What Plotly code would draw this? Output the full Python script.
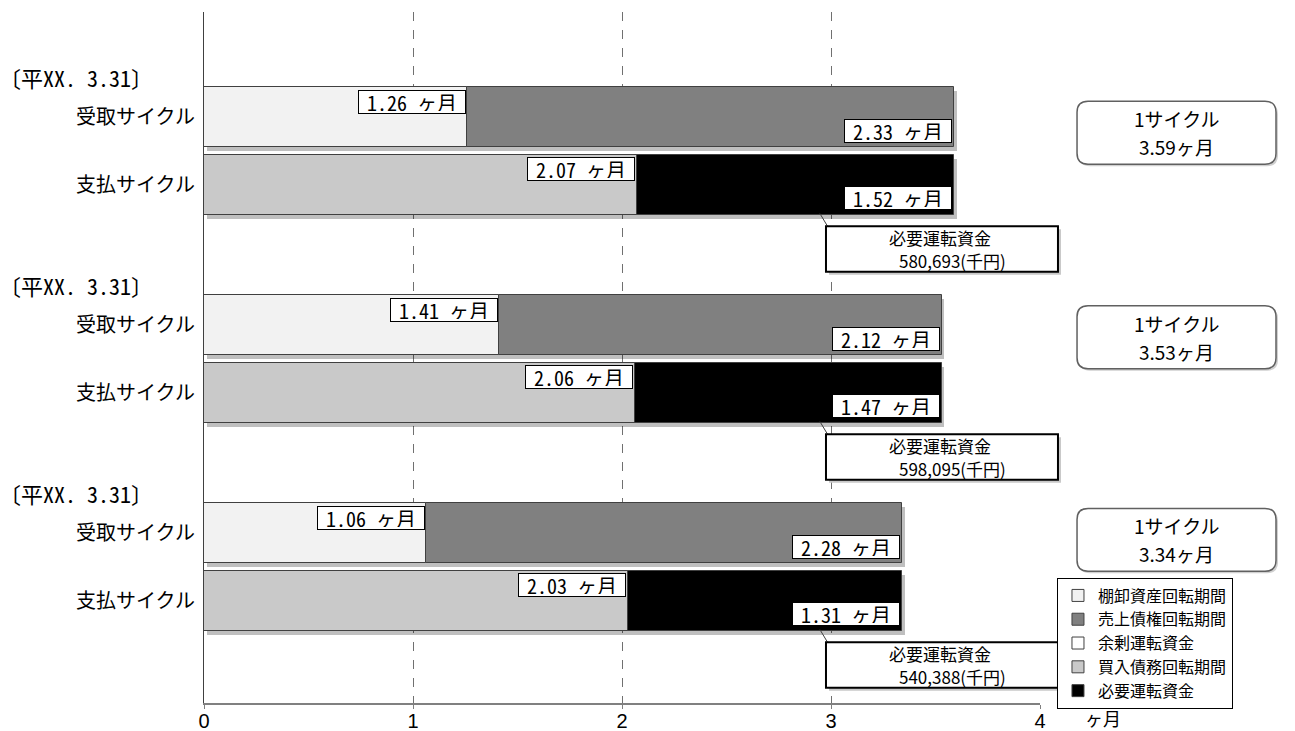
import plotly.graph_objects as go

# ---------------- data ----------------
period_labels = ["〔平XX. 3.31〕", "〔平XX. 3.31〕", "〔平XX. 3.31〕"]
row_labels = ["受取サイクル", "支払サイクル"]
inventory_months = [1.26, 1.41, 1.06]
receivable_months = [2.33, 2.12, 2.28]
payable_months = [2.07, 2.06, 2.03]
required_months = [1.52, 1.47, 1.31]
cycle_months = [3.59, 3.53, 3.34]
required_funds = ["580,693", "598,095", "540,388"]
series_names = ["棚卸資産回転期間", "売上債権回転期間", "余剰運転資金", "買入債務回転期間", "必要運転資金"]
x_ticks = [0, 1, 2, 3, 4]

# ---------------- layout constants ----------------
JP = "Noto Sans CJK JP"
MONO = "Noto Sans Mono CJK JP, DejaVu Sans Mono, Noto Sans CJK JP"
GROUP_STEP = 3.06
BAR_W = 0.88
Y_TOP, Y_BOTTOM = -1.545, 8.62
CYCLE_BOX_OFFSET = [0.23, 0.18, 0.10]
colors = ["#f2f2f2", "#808080", "#ffffff", "#c9c9c9", "#000000"]
PX_X, PX_Y = 1 / 836, 1 / 691  # one pixel in paper units

n = len(period_labels)
recv_y = [g * GROUP_STEP for g in range(n)]
pay_y = [g * GROUP_STEP + 1 for g in range(n)]
recv_tot = [a + b for a, b in zip(inventory_months, receivable_months)]
pay_tot = [a + b for a, b in zip(payable_months, required_months)]


def y_paper(v):
    return (Y_BOTTOM - v) / (Y_BOTTOM - Y_TOP)


def rounded(x0, y0, x1, y1, rx, ry):
    return (f"M{x0 + rx},{y0} L{x1 - rx},{y0} Q{x1},{y0} {x1},{y0 + ry} L{x1},{y1 - ry} "
            f"Q{x1},{y1} {x1 - rx},{y1} L{x0 + rx},{y1} Q{x0},{y1} {x0},{y1 - ry} "
            f"L{x0},{y0 + ry} Q{x0},{y0} {x0 + rx},{y0} Z")


fig = go.Figure()

# shadows
fig.add_trace(go.Bar(
    x=recv_tot + pay_tot, y=[v + 0.06 for v in recv_y + pay_y], base=0.012,
    orientation="h", width=BAR_W, marker=dict(color="rgba(0,0,0,0.25)", line=dict(width=0)),
    showlegend=False, hoverinfo="skip"))

common = dict(orientation="h", width=BAR_W, hoverinfo="skip")
fig.add_trace(go.Bar(name=series_names[0], x=inventory_months, y=recv_y, base=[0] * n,
                     marker=dict(color=colors[0], line=dict(color="#404040", width=1)), **common))
fig.add_trace(go.Bar(name=series_names[1], x=receivable_months, y=recv_y, base=inventory_months,
                     marker=dict(color=colors[1], line=dict(color="#404040", width=1)), **common))
fig.add_trace(go.Bar(name=series_names[2], x=[None] * n, y=recv_y,
                     marker=dict(color=colors[2], line=dict(color="#404040", width=1)), **common))
fig.add_trace(go.Bar(name=series_names[3], x=payable_months, y=pay_y, base=[0] * n,
                     marker=dict(color=colors[3], line=dict(color="#404040", width=1)), **common))
fig.add_trace(go.Bar(name=series_names[4], x=required_months, y=pay_y, base=payable_months,
                     marker=dict(color=colors[4], line=dict(color="#404040", width=1)), **common))

annotations = []
shapes = []
lab_style = dict(bgcolor="white", bordercolor="black", borderwidth=1, borderpad=2,
                 width=102, height=18, showarrow=False, font=dict(family=MONO, size=20, color="black"))

for g in range(n):
    # period header
    annotations.append(dict(xref="paper", x=-0.2476, y=recv_y[g] - 0.59, text=period_labels[g],
                            xanchor="left", yanchor="middle", showarrow=False,
                            font=dict(family=MONO, size=22, color="black")))
    # value labels
    annotations.append(dict(x=inventory_months[g], y=recv_y[g] - BAR_W / 2, xanchor="right", yanchor="top",
                            yshift=-3, xshift=-1, text=f"{inventory_months[g]:.2f} ヶ月", **lab_style))
    annotations.append(dict(x=recv_tot[g], y=recv_y[g] + BAR_W / 2, xanchor="right", yanchor="bottom",
                            yshift=4, xshift=-2, text=f"{receivable_months[g]:.2f} ヶ月", **lab_style))
    annotations.append(dict(x=payable_months[g], y=pay_y[g] - BAR_W / 2, xanchor="right", yanchor="top",
                            yshift=-2, xshift=-2, text=f"{payable_months[g]:.2f} ヶ月", **lab_style))
    annotations.append(dict(x=pay_tot[g], y=pay_y[g] + BAR_W / 2, xanchor="right", yanchor="bottom",
                            yshift=5, xshift=-2, text=f"{required_months[g]:.2f} ヶ月", **lab_style))

    # required funds box (leader line + box + two text lines)
    shapes.append(dict(type="line", xref="x", yref="y", x0=2.947, y0=pay_y[g] + 0.42,
                       x1=2.99, y1=pay_y[g] + 0.64, line=dict(color="#404040", width=1)))
    fy = pay_y[g] + 0.94
    bx0, bx1 = 0.744, 1.0215
    by0, by1 = y_paper(fy + 0.335), y_paper(fy - 0.335)
    shapes.append(dict(type="rect", xref="paper", yref="paper", x0=bx0 + 3 * PX_X, x1=bx1 + 3 * PX_X,
                       y0=by0 - 3 * PX_Y, y1=by1 - 3 * PX_Y, fillcolor="#c8c8c8", line=dict(width=0)))
    shapes.append(dict(type="rect", xref="paper", yref="paper", x0=bx0, x1=bx1, y0=by0, y1=by1,
                       fillcolor="white", line=dict(color="black", width=2)))
    annotations.append(dict(xref="paper", x=0.8804, y=fy, yshift=11.5, xanchor="center", yanchor="middle",
                            text="必要運転資金", showarrow=False,
                            font=dict(family=JP, size=17, color="black")))
    annotations.append(dict(xref="paper", x=0.829, y=fy, yshift=-11.5, xanchor="left", yanchor="middle",
                            text=required_funds[g] + "(千円)", showarrow=False,
                            font=dict(family=JP, size=17, color="black")))

    # cycle rounded box
    cy = recv_y[g] + CYCLE_BOX_OFFSET[g]
    x0, x1 = 1.0443, 1.2823
    y0, y1 = y_paper(cy + 0.463), y_paper(cy - 0.463)
    rx, ry = 11 * PX_X, 11 * PX_Y
    dx, dy = 2 * PX_X, 2 * PX_Y
    shapes.append(dict(type="path", xref="paper", yref="paper",
                       path=rounded(x0 + dx, y0 - dy, x1 + dx, y1 - dy, rx, ry),
                       fillcolor="#d0d0d0", line=dict(width=0), layer="below"))
    shapes.append(dict(type="path", xref="paper", yref="paper", path=rounded(x0, y0, x1, y1, rx, ry),
                       fillcolor="white", line=dict(color="#606060", width=1.5)))
    annotations.append(dict(xref="paper", x=(x0 + x1) / 2, y=cy, xanchor="center", yanchor="middle",
                            yshift=14, text="1サイクル", showarrow=False,
                            font=dict(family=JP, size=19, color="black")))
    annotations.append(dict(xref="paper", x=(x0 + x1) / 2, y=cy, xanchor="center", yanchor="middle",
                            yshift=-14, text=f"{cycle_months[g]:.2f}ヶ月", showarrow=False,
                            font=dict(family=JP, size=19, color="black")))

# axis unit label
annotations.append(dict(xref="paper", yref="paper", x=1.052, y=-0.021, xanchor="left", yanchor="middle",
                        text="ヶ月", showarrow=False, font=dict(family=JP, size=18, color="black")))

fig.update_layout(
    width=1295, height=731,
    margin=dict(l=204, r=255, t=12, b=28),
    plot_bgcolor="white", paper_bgcolor="white",
    barmode="overlay", bargap=0,
    showlegend=True,
    legend=dict(x=1.0203, y=-0.008, xanchor="left", yanchor="bottom", bgcolor="white",
                bordercolor="black", borderwidth=1, traceorder="normal", tracegroupgap=0,
                font=dict(family=JP, size=16, color="black")),
    annotations=annotations, shapes=shapes,
    xaxis=dict(range=[0, 4], tickvals=x_ticks, showgrid=True, gridcolor="#707070", griddash="dash",
               gridwidth=1, zeroline=False, showline=True, linecolor="#808080", linewidth=2,
               ticks="outside", ticklen=4, tickcolor="#808080", automargin=False,
               ticklabelstandoff=-5,
               tickfont=dict(family="Liberation Sans, Arial", size=20, color="black")),
    yaxis=dict(range=[Y_BOTTOM, Y_TOP], tickvals=recv_y + pay_y,
               ticktext=[row_labels[0]] * n + [row_labels[1]] * n, automargin=False,
               showgrid=False, zeroline=False, showline=True, linecolor="#404040", linewidth=1,
               ticks="outside", ticklen=4, tickcolor="rgba(0,0,0,0)",
               tickfont=dict(family=JP, size=20, color="black")),
)

fig.write_html("out.html")
